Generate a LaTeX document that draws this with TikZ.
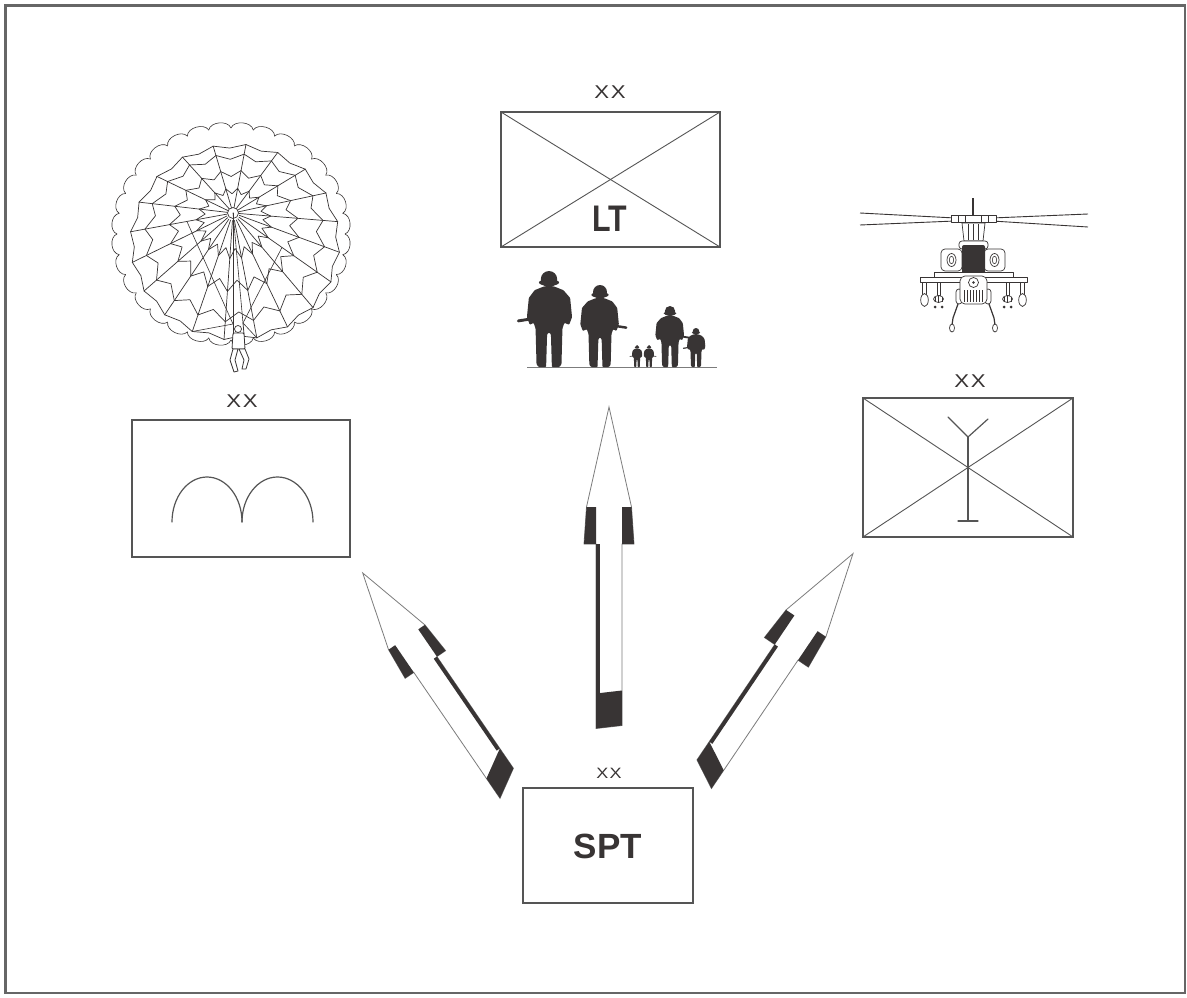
\documentclass[tikz,border=0pt]{standalone}
\usepackage{fontspec}
\setmainfont{Liberation Sans}
\usepackage{graphicx}
\usetikzlibrary{calc}

\definecolor{ink}{HTML}{383434}
\definecolor{edge}{HTML}{555555}
\definecolor{hair}{HTML}{7C7C7C}
\definecolor{framec}{HTML}{666666}

\tikzset{
  unitbox/.style={draw=edge, line width=1.3pt, fill=white, inner sep=0pt, outer sep=0pt},
  echelon/.style={font=\fontsize{18.5}{20}\selectfont, text=ink, inner sep=0pt},
  smallechelon/.style={font=\fontsize{15}{16}\selectfont, text=ink, inner sep=0pt},
  bigtag/.style={font=\fontsize{37}{40}\selectfont\bfseries, text=ink, inner sep=0pt},
  crossline/.style={draw=edge, line width=0.9pt},
  symbolline/.style={draw=edge, line width=1.2pt, line cap=round},
  sketch/.style={draw=ink, line width=0.7pt, line cap=round, line join=round},
  silhouette/.style={fill=ink, draw=none},
  arrowbody/.style={fill=white, draw=hair, line width=0.8pt, line join=miter},
  arrowdark/.style={fill=ink, draw=none},
  heli/.style={draw=ink, line width=0.7pt, line join=round, fill=white},
}

% Block arrow, tail centre at #1, turned by #2, tip along local -y.
% #3 length, #4 head length, #5 head half width, #6 shaft half width,
% #7 shoulder length, #8 tail block length, #9 side of the shadow (-1 / 1).
% \askew tilts the tail end.
\def\askew{0}
\newcommand\milarrow[9]{%
  \begin{scope}[shift={(#1)}, rotate=#2]
    \pgfmathsetmacro\maYb{-(#3)+(#4)}
    \pgfmathsetmacro\maYs{\maYb+(#7)}
    \pgfmathsetmacro\maKl{\askew}
    \pgfmathsetmacro\maKr{0-(\askew)}
    \pgfmathsetmacro\maTl{\maKl-(#8)}
    \pgfmathsetmacro\maTr{\maKr-(#8)}
    \pgfmathsetmacro\maSx{(#9)*(#6)}
    \pgfmathsetmacro\maSi{(#9)*((#6)-3.8)}
    \pgfmathsetmacro\maSt{(#9)<0 ? \maTl : \maTr}
    \pgfmathsetmacro\maHo{(#5)+2.5}
    \path[arrowbody] (0,-#3) -- (#5,\maYb) -- (\maHo,\maYs) -- (#6,\maYs) -- (#6,\maKr)
      -- (-#6,\maKl) -- (-#6,\maYs) -- (-\maHo,\maYs) -- (-#5,\maYb) -- cycle;
    \fill[arrowdark] (-#5,\maYb) -- (-#6,\maYb) -- (-#6,\maYs) -- (-\maHo,\maYs) -- cycle;
    \fill[arrowdark] (#5,\maYb) -- (#6,\maYb) -- (#6,\maYs) -- (\maHo,\maYs) -- cycle;
    \fill[arrowdark] (-#6,\maTl) -- (#6,\maTr) -- (#6,\maKr) -- (-#6,\maKl) -- cycle;
    \fill[arrowdark] (\maSx,\maYs) -- (\maSi,\maYs) -- (\maSi,\maSt) -- (\maSx,\maSt) -- cycle;
  \end{scope}}

% Soldier silhouette: feet centre #1,#2, height #3, facing #4 (1 / -1).
\newcommand\soldier[4]{%
  \pgfmathsetmacro\rifw{#3*0.03}
  \begin{scope}[shift={(#1,#2)}, scale=#3/100, xscale=#4]
    \fill[silhouette] (0,-91.5) ellipse (8.5 and 8.5);
    \fill[silhouette] (0,-88) ellipse (10.5 and 3.5);
    \fill[silhouette, rounded corners=0.8pt] (-5,-84) -- (-15,-80) -- (-21,-72) -- (-23,-52)
      -- (-20,-44) -- (-16,-46) -- (-14,-40) -- (-13,-3) -- (-11,0) -- (-3,0) -- (-2,-34)
      -- (0,-36) -- (2,-34) -- (3,0) -- (11,0) -- (13,-3) -- (14,-40) -- (16,-46)
      -- (21,-44) -- (24,-52) -- (22,-72) -- (15,-80) -- (5,-84) -- cycle;
    \draw[ink, line width=\rifw pt, line cap=round] (-32,-48) -- (6,-54);
  \end{scope}}

\begin{document}
\begin{tikzpicture}[x=1pt, y=-1pt]
\useasboundingbox (0,0) rectangle (1187,998);
\fill[white] (0,0) rectangle (1187,998);
\draw[framec, line width=2.5pt] (5.5,5.5) rectangle (1185,993);

% ---------------- unit boxes ----------------
\node[unitbox, minimum width=219pt, minimum height=135pt] (lt) at (610.5,179.5) {};
\draw[crossline] (lt.north west) -- (lt.south east);
\draw[crossline] (lt.south west) -- (lt.north east);
\node[echelon] (ltxx) at (610,92) {\scalebox{1.2}[1]{X\kern1.5pt X}};
\node[bigtag] (lttag) at (610,219) {\scalebox{0.82}[1]{LT}};

\node[unitbox, minimum width=218pt, minimum height=137pt] (ab) at (241,488.5) {};
\node[echelon] (abxx) at (242,401) {\scalebox{1.2}[1]{X\kern1.5pt X}};
\draw[symbolline] (172,522) arc[start angle=180, end angle=360, x radius=35, y radius=45];
\draw[symbolline] (242,522) arc[start angle=180, end angle=360, x radius=35.5, y radius=45];

\node[unitbox, minimum width=210pt, minimum height=139pt] (av) at (968,467.5) {};
\draw[crossline] (av.north west) -- (av.south east);
\draw[crossline] (av.south west) -- (av.north east);
\node[echelon] (avxx) at (970,381) {\scalebox{1.2}[1]{X\kern1.5pt X}};
\draw[symbolline] (948,417) -- (968,437) -- (988,419);
\draw[symbolline] (968,437) -- (968,521);
\draw[symbolline] (958,521) -- (978,521);

\node[unitbox, minimum width=170pt, minimum height=115pt] (spt) at (608,845.5) {};
\node[smallechelon] (sptxx) at (609,773) {\scalebox{1.2}[1]{X\kern1pt X}};
\node[bigtag, font=\fontsize{35}{40}\selectfont\bfseries] (spttag) at (608,846) {SPT};

% ---------------- block arrows ----------------
{\def\askew{1.5}\milarrow{609,727}{0}{320}{100}{22.5}{13}{37}{35}{-1}}
{\def\askew{8.6}\milarrow{506.7,783.3}{34.4}{255}{78}{22}{14}{33}{24}{1}}
{\def\askew{-7.8}\milarrow{704.2,774.2}{-34}{266}{84}{24}{14}{35}{22}{-1}}

% ---------------- parachute ----------------
\coordinate (pco) at (231,234);
\foreach \i in {0,...,31} {
  \draw[sketch, line width=0.6pt]
    ($(pco)+({\i*11.25}:114 and 106)$) .. controls ($(pco)+({\i*11.25+1.5}:122 and 114)$)
    and ($(pco)+({\i*11.25+9.75}:122 and 114)$) .. ($(pco)+({(\i+1)*11.25}:114 and 106)$);
}
\coordinate (pc) at (235,242);
\coordinate (apex) at (233,213);
\foreach \i in {0,...,19} {
  \coordinate (r\i) at ($(pc)+({\i*18+6}:105 and 98)$);
  \coordinate (m\i) at ($(pc)+({(\i+0.5)*18+6}:105 and 98)$);
}
\foreach \i in {0,...,19} {
  \pgfmathtruncatemacro\j{mod(\i+1,20)}
  \draw[sketch] ($(apex)!0.06!(r\i)$) -- (r\i);
  \draw[sketch] (r\i) -- ($(m\i)!0.04!(pc)$) -- (r\j);
  \draw[sketch] ($(apex)!0.36!(r\i)$) -- ($(apex)!0.28!(m\i)$) -- ($(apex)!0.36!(r\j)$);
  \draw[sketch] ($(apex)!0.62!(r\i)$) -- ($(apex)!0.53!(m\i)$) -- ($(apex)!0.62!(r\j)$);
  \draw[sketch] ($(apex)!0.86!(r\i)$) -- ($(apex)!0.78!(m\i)$) -- ($(apex)!0.86!(r\j)$);
}
\draw[sketch, fill=white] (apex) circle (5.5);
\coordinate (hl) at (233,324);
\coordinate (hr) at (243,323);
\draw[sketch, line width=0.6pt] (apex) -- (hl);
\draw[sketch, line width=0.6pt] (apex) -- (hr);
\draw[sketch, line width=0.6pt] ($(apex)!0.45!(r10)$) -- (hl);
\draw[sketch, line width=0.6pt] ($(apex)!0.5!(r1)$) -- (hr);
\draw[sketch, line width=0.6pt] (r6) -- (hl);
\draw[sketch, line width=0.6pt] (r4) -- (hr);
% jumper
\draw[sketch, fill=white] (238,329) circle (3.5);
\draw[sketch, line width=0.8pt, fill=white, rounded corners=1pt] (233,333) -- (244,333) -- (245,349) -- (232,349) -- cycle;
\draw[sketch, line width=0.8pt] (233,334) -- (hl);
\draw[sketch, line width=0.8pt] (244,334) -- (hr);
\draw[sketch, line width=0.8pt, fill=white] (233,349) -- (230,360) -- (234,372) -- (238,371) -- (235,360) -- (238,349) -- cycle;
\draw[sketch, line width=0.8pt, fill=white] (239,349) -- (244,360) -- (242,369) -- (246,369) -- (249,359) -- (245,349) -- cycle;

% ---------------- soldiers ----------------
\draw[hair, line width=0.8pt] (527,367) -- (717,367);
\soldier{549}{367}{96}{1}
\soldier{600}{367}{82}{-1}
\soldier{637}{367}{22}{1}
\soldier{649}{367}{22}{-1}
\soldier{670}{367}{61}{-1}
\soldier{696}{367}{39}{1}

% ---------------- helicopter ----------------
\draw[ink, line width=0.9pt] (860,213) -- (955,218);
\draw[ink, line width=0.9pt] (860,225) -- (955,221);
\draw[ink, line width=0.9pt] (992,218) -- (1088,214);
\draw[ink, line width=0.9pt] (992,221) -- (1088,227);
\draw[ink, line width=1.6pt] (973,198) -- (973,215);
\draw[heli] (951,215) rectangle (996,222);
\foreach \x in {958,965,981,988} \draw[ink, line width=0.6pt] (\x,215) -- (\x,222);
\draw[heli] (962,223) -- (985,223) -- (983,241) -- (964,241) -- cycle;
\foreach \x in {968,973,978} \draw[ink, line width=0.6pt] (\x,224) -- (\x,240);
\draw[heli, rounded corners=4pt] (941,249) rectangle (962,271);
\draw[heli] (951.5,260) ellipse (4.5 and 6.5);
\draw[ink, line width=0.6pt] (951.5,260) ellipse (2.2 and 3.8);
\draw[heli, rounded corners=4pt] (984,249) rectangle (1005,271);
\draw[heli] (994.5,260) ellipse (4.5 and 6.5);
\draw[ink, line width=0.6pt] (994.5,260) ellipse (2.2 and 3.8);
\draw[heli, rounded corners=3pt] (959,241) rectangle (988,249);
\fill[ink, rounded corners=2pt] (962,245) rectangle (985,277);
\draw[heli] (934,272) rectangle (1013,277);
\draw[heli] (920,277) rectangle (1027,282);
\draw[heli] (922.5,282) rectangle (926.5,294);
\draw[heli] (924.5,300) ellipse (3.8 and 6.5);
\draw[heli] (1020.5,282) rectangle (1024.5,294);
\draw[heli] (1022.5,300) ellipse (3.8 and 6.5);
\draw[heli] (937,282) rectangle (940,295);
\draw[heli] (938.5,299) ellipse (5 and 3.5);
\draw[ink, line width=0.6pt] (935,297) -- (935,302) (938.5,296) -- (938.5,302.5) (942,297) -- (942,302);
\fill[ink] (935,307) circle (1.5) (942,307) circle (1.5);
\draw[heli] (1006,282) rectangle (1009,295);
\draw[heli] (1007.5,299) ellipse (5 and 3.5);
\draw[ink, line width=0.6pt] (1004,297) -- (1004,302) (1007.5,296) -- (1007.5,302.5) (1011,297) -- (1011,302);
\fill[ink] (1004,307) circle (1.5) (1011,307) circle (1.5);
\draw[heli, rounded corners=3pt] (956,289) rectangle (962,304);
\draw[heli, rounded corners=3pt] (985,289) rectangle (991,304);
\draw[heli, rounded corners=5pt] (960,276) rectangle (987,304);
\draw[heli] (973.5,282.5) circle (5);
\fill[ink] (973.5,282.5) circle (1.3);
\foreach \x in {964,967,970,973,976,979,982} \draw[ink, line width=0.6pt] (\x,290) -- (\x,302);
\draw[ink, line width=1.2pt] (958,304) -- (953,318) -- (952,325);
\draw[ink, line width=1.2pt] (989,304) -- (994,318) -- (995,325);
\draw[heli] (952,328) ellipse (2.5 and 4);
\draw[heli] (995,328) ellipse (2.5 and 4);
\end{tikzpicture}
\end{document}
